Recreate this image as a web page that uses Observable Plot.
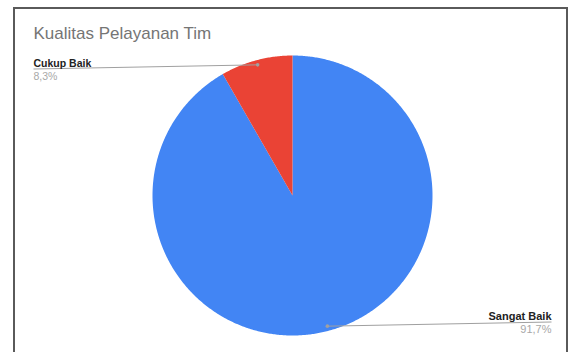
<!DOCTYPE html>
<html><head><meta charset="utf-8">
<script src="https://cdn.jsdelivr.net/npm/d3@7"></script>
<script src="https://cdn.jsdelivr.net/npm/@observablehq/plot@0.6"></script>
<style>
html,body{margin:0;padding:0;background:#fff;}
#wrap{position:relative;width:571px;height:352px;overflow:hidden;}
#border{position:absolute;left:13px;top:7px;width:551px;height:400px;border:2px solid #5a5a5a;box-sizing:content-box;pointer-events:none;}
svg{position:absolute;left:0;top:0;}
</style>
</head><body>
<div id="wrap"><div id="chart"></div><div id="border"></div></div>
<script>
const title = "Kualitas Pelayanan Tim";
const categories = ["Sangat Baik", "Cukup Baik"];
const values = [91.7, 8.3];
const valueLabels = ["91,7%", "8,3%"];
const colors = ["#4285F4", "#EA4335"];

const W = 571, H = 352, cx = 292, cy = 195, R = 140;
// data-space helpers (unit = radius)
const px = x => (x - cx) / R;
const py = y => (cy - y) / R;

const pie = d3.pie().sort(null).value(d => d.value);
const arcs = pie(categories.map((c, i) => ({category: c, value: values[i], label: valueLabels[i]})));

const wedgePts = [];
arcs.forEach(a => {
  const c = a.data.category;
  wedgePts.push({category: c, x: 0, y: 0});
  const n = Math.max(2, Math.ceil((a.endAngle - a.startAngle) / (Math.PI / 360)));
  for (let k = 0; k <= n; k++) {
    const t = a.startAngle + (a.endAngle - a.startAngle) * k / n;
    wedgePts.push({category: c, x: Math.sin(t), y: Math.cos(t)});
  }
  wedgePts.push({category: c, x: 0, y: 0});
});

// leader lines & labels
const leaders = arcs.map(a => {
  const m = (a.startAngle + a.endAngle) / 2;
  const k = 0.966;
  const dx = Math.sin(m) * k, dy = Math.cos(m) * k;
  const left = dx < 0;
  const ux = left ? 33 : 551;
  const uy = left ? 68.5 : 321.5;
  return {category: a.data.category, label: a.data.label, left,
    x1: dx, y1: dy, x2: px(ux), y2: py(uy),
    nameY: py(uy - 2.5), valY: py(uy + 11)};
});
const leftL = leaders.filter(d => d.left);
const rightL = leaders.filter(d => !d.left);
const font = "'Liberation Sans', Arial, sans-serif";

const plot = Plot.plot({
  width: W, height: H,
  margin: 0,
  x: {domain: [px(0), px(W)], axis: null},
  y: {domain: [py(H), py(0)], axis: null},
  color: {domain: categories, range: colors},
  style: {fontFamily: font, background: "transparent"},
  marks: [
    Plot.line(wedgePts, {x: "x", y: "y", z: "category", fill: "category", stroke: "none", curve: "linear"}),
    Plot.link(leaders, {x1: "x1", y1: "y1", x2: "x2", y2: "y2", stroke: "#a0a0a0", strokeWidth: 1}),
    Plot.dot(leaders, {x: "x1", y: "y1", r: 1.8, fill: "#a0a0a0", stroke: "none"}),
    Plot.text(leftL, {x: "x2", y: "nameY", text: "category", textAnchor: "start", fill: "#222", fontWeight: "bold", fontSize: 10.5, lineAnchor: "bottom"}),
    Plot.text(leftL, {x: "x2", y: "valY", text: "label", textAnchor: "start", fill: "#a8a8a8", fontSize: 10.5, lineAnchor: "bottom"}),
    Plot.text(rightL, {x: "x2", y: "nameY", text: "category", textAnchor: "end", fill: "#222", fontWeight: "bold", fontSize: 11, lineAnchor: "bottom"}),
    Plot.text(rightL, {x: "x2", y: "valY", text: "label", textAnchor: "end", fill: "#a8a8a8", fontSize: 11, lineAnchor: "bottom"}),
    Plot.text([title], {frameAnchor: "top-left", dx: 33, dy: 26.5, text: d => d, fill: "#757575", fontSize: 17, lineAnchor: "top"})
  ]
});
document.getElementById("chart").appendChild(plot);
</script>
</body></html>
